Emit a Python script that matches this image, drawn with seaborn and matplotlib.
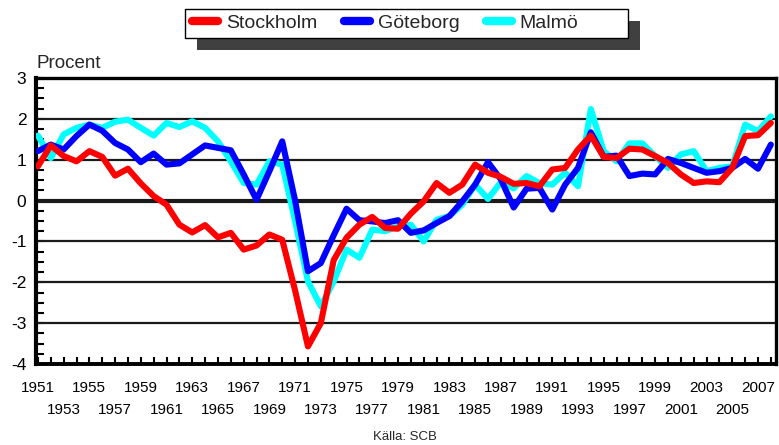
import matplotlib
matplotlib.use("Agg")
import numpy as np
import pandas as pd
import matplotlib.pyplot as plt
import seaborn as sns
from matplotlib.lines import Line2D
from matplotlib.patches import Rectangle
from matplotlib.ticker import MultipleLocator, FixedLocator, FuncFormatter
from matplotlib.transforms import IdentityTransform

# ---------------- data ----------------
years = list(range(1951, 2009))

stockholm = [0.84, 1.35, 1.09, 0.96, 1.21, 1.07, 0.61, 0.78, 0.42, 0.11,
             -0.10, -0.59, -0.78, -0.60, -0.90, -0.79, -1.20, -1.10, -0.83, -0.96,
             -2.20, -3.57, -3.00, -1.46, -0.91, -0.59, -0.40, -0.67, -0.69, -0.32,
             -0.02, 0.43, 0.19, 0.39, 0.88, 0.68, 0.58, 0.41, 0.43, 0.35,
             0.76, 0.80, 1.25, 1.59, 1.07, 1.04, 1.27, 1.25, 1.09, 0.92,
             0.64, 0.43, 0.47, 0.45, 0.80, 1.58, 1.60, 1.90]

goteborg = [1.21, 1.37, 1.25, 1.58, 1.86, 1.71, 1.41, 1.25, 0.94, 1.15,
            0.88, 0.91, 1.13, 1.35, 1.29, 1.23, 0.64, 0.02, 0.72, 1.45,
            0.00, -1.73, -1.53, -0.85, -0.20, -0.48, -0.51, -0.55, -0.48, -0.79,
            -0.73, -0.55, -0.38, -0.02, 0.39, 0.94, 0.52, -0.17, 0.29, 0.31,
            -0.22, 0.39, 0.80, 1.67, 1.07, 1.10, 0.60, 0.66, 0.64, 1.02,
            0.92, 0.80, 0.68, 0.72, 0.80, 1.02, 0.78, 1.37]

malmo = [1.59, 1.04, 1.62, 1.78, 1.86, 1.78, 1.93, 1.98, 1.78, 1.59,
         1.90, 1.80, 1.94, 1.78, 1.45, 0.96, 0.43, 0.39, 0.96, 0.88,
         -0.50, -1.98, -2.59, -1.98, -1.20, -1.40, -0.71, -0.75, -0.63, -0.59,
         -1.00, -0.47, -0.38, -0.10, 0.39, 0.04, 0.45, 0.30, 0.60, 0.43,
         0.39, 0.68, 0.35, 2.24, 1.21, 0.96, 1.40, 1.40, 1.09, 0.80,
         1.13, 1.21, 0.72, 0.80, 0.84, 1.86, 1.70, 2.06]

cities = ["Stockholm", "Göteborg", "Malmö"]
colors = {"Stockholm": "#ff0000", "Göteborg": "#0000ff", "Malmö": "#00ffff"}

top_row_years = years[0::4]      # 1951, 1955, ... 2007
bottom_row_years = years[2::4]   # 1953, 1957, ... 2005

df = pd.DataFrame({
    "år": years * 3,
    "procent": stockholm + goteborg + malmo,
    "stad": ["Stockholm"] * len(years) + ["Göteborg"] * len(years) + ["Malmö"] * len(years),
})

# ---------------- style ----------------
sns.set_style("white")
plt.rcParams['font.family'] = ['Liberation Sans', 'DejaVu Sans']

fig = plt.figure(figsize=(7.79, 4.45), dpi=100)
ax = fig.add_axes([36 / 779, 1 - 364 / 445, 740 / 779, 286 / 445])

sns.lineplot(data=df, x="år", y="procent", hue="stad",
             hue_order=["Malmö", "Göteborg", "Stockholm"],
             palette=colors, linewidth=4.4, ax=ax, legend=False, zorder=3)

ax.set_xlim(1950.85, 2008.4)
ax.set_ylim(-4, 3)
ax.set_xlabel("")
ax.set_ylabel("")

# y axis
ax.set_yticks(range(-4, 4))
ax.set_yticklabels([str(v) for v in range(-4, 4)])
ax.yaxis.set_minor_locator(MultipleLocator(0.25))
ax.tick_params(axis="y", which="both", direction="in", length=5.5, width=1.5,
               left=True, right=False, labelsize=12.5, pad=7, colors="black")

# x axis: top row labels on major ticks, bottom row labels on minor ticks
ax.xaxis.set_major_locator(FixedLocator(top_row_years))
ax.xaxis.set_minor_locator(FixedLocator(years))
ax.xaxis.set_major_formatter(FuncFormatter(lambda v, p: str(int(round(v)))))
ax.xaxis.set_minor_formatter(FuncFormatter(
    lambda v, p: str(int(round(v))) if int(round(v)) in bottom_row_years else ""))
ax.tick_params(axis="x", which="both", direction="in", length=5, width=1.5,
               bottom=True, top=False, labelsize=11, colors="black")
ax.tick_params(axis="x", which="major", pad=12)
ax.tick_params(axis="x", which="minor", pad=28)

# grid
ax.grid(False)
for v in range(-3, 3):
    ax.axhline(v, color="#1a1a1a", lw=1.6 if v != 0 else 3.0, zorder=1)

for side, w in [("left", 3.0), ("right", 2.4), ("top", 2.4), ("bottom", 2.8)]:
    ax.spines[side].set_visible(True)
    ax.spines[side].set_color("black")
    ax.spines[side].set_linewidth(w)

# texts
fig.text(36 / 779, 1 - 63 / 445, "Procent", ha="left", va="center", fontsize=13.5)
fig.text(405 / 779, 1 - 437 / 445, "Källa: SCB", ha="center", va="center", fontsize=9.5)

# legend (frame + shadow drawn as decoration boxes)
H = 445
box = Rectangle((185, H - 38), 443, 29, transform=IdentityTransform(),
                facecolor="white", edgecolor="black", lw=1.0, zorder=9)
shadow = Rectangle((197, H - 50), 443, 29, transform=IdentityTransform(),
                   facecolor="#404040", edgecolor="none", zorder=8)
fig.add_artist(shadow)
fig.add_artist(box)

handles = [Line2D([0], [0], color=colors[c], lw=6, solid_capstyle="round") for c in cities]
leg = fig.legend(handles, cities, loc="center left", bbox_to_anchor=(192 / 779, 1 - 23.5 / H),
                 ncol=3, frameon=False, fontsize=14, handlelength=1.35, handletextpad=0.4,
                 columnspacing=1.35, borderpad=0, borderaxespad=0)
leg.set_zorder(10)

fig.savefig("out.png", dpi=100)
